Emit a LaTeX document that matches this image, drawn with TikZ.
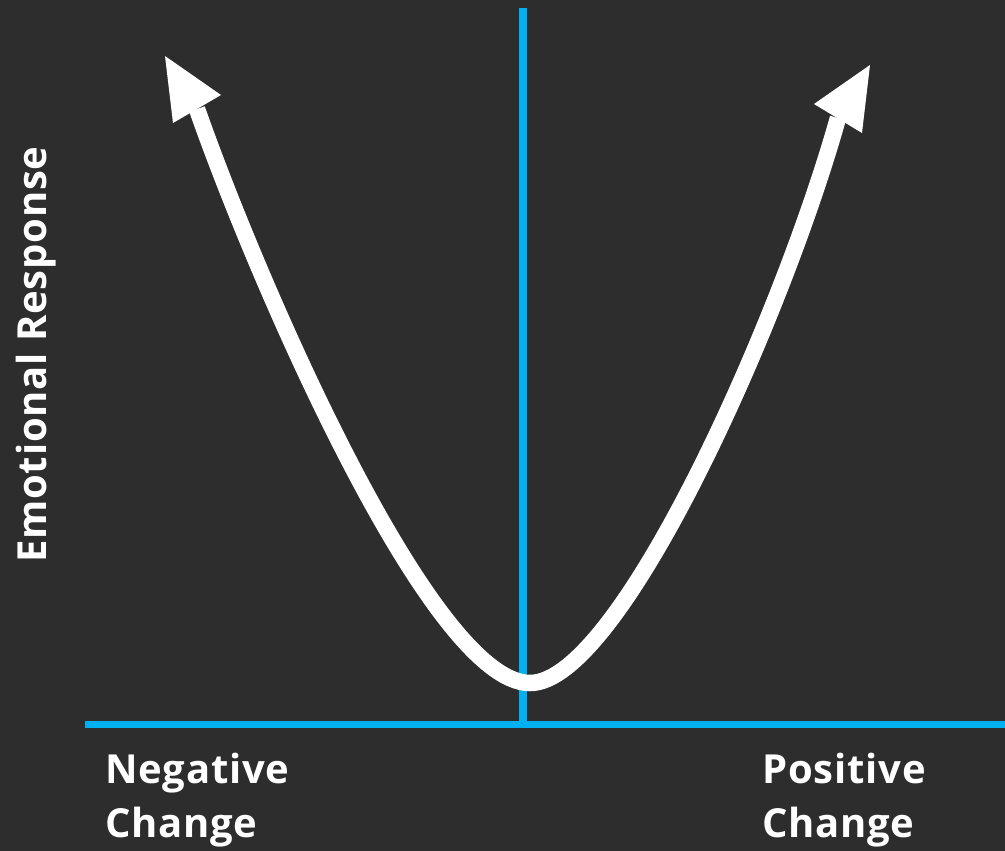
\documentclass[tikz,border=0pt]{standalone}
\usepackage{fontspec}
\setmainfont[LetterSpace=2]{Open Sans}
\definecolor{bg}{HTML}{2D2D2D}
\definecolor{axisblue}{HTML}{00B0F0}
\tikzset{
  axisline/.style={draw=axisblue, line width=7.5pt},
  curveline/.style={draw=white, line width=16.5pt},
  tiphead/.style={fill=white, draw=none},
  lbl/.style={text=white, font=\fontsize{40}{54}\selectfont\bfseries, inner sep=0pt, anchor=base west}
}
\begin{document}
\begin{tikzpicture}[x=1pt,y=-1pt]
\fill[bg] (0,0) rectangle (1005,851);
\useasboundingbox (0,0) rectangle (1005,851);
% axes
\coordinate (xl) at (85,724.5);
\coordinate (xr) at (1005,724.5);
\coordinate (yt) at (523,8);
\coordinate (yb) at (523,728);
\draw[axisline] (xl) -- (xr);
\draw[axisline] (yt) -- (yb);
% curve
\coordinate (lb) at (197,109);
\coordinate (v) at (530,683);
\coordinate (rb) at (838,118);
\draw[curveline] (lb) .. controls (255,275) and (430,683) .. (v)
                      .. controls (620,683) and (782,318) .. (rb);
% arrowheads
\fill[tiphead] (165,56) -- (221,95) -- (173,123) -- cycle;
\fill[tiphead] (870,65) -- (814,104) -- (862,133) -- cycle;
% labels
\node[lbl] (neg1) at (105,783) {Negative};
\node[lbl] (neg2) at (105,837) {Change};
\node[lbl] (pos1) at (762,783) {Positive};
\node[lbl] (pos2) at (762,837) {Change};
\node[lbl, rotate=90] (yl) at (46,563) {Emotional Response};
\end{tikzpicture}
\end{document}
